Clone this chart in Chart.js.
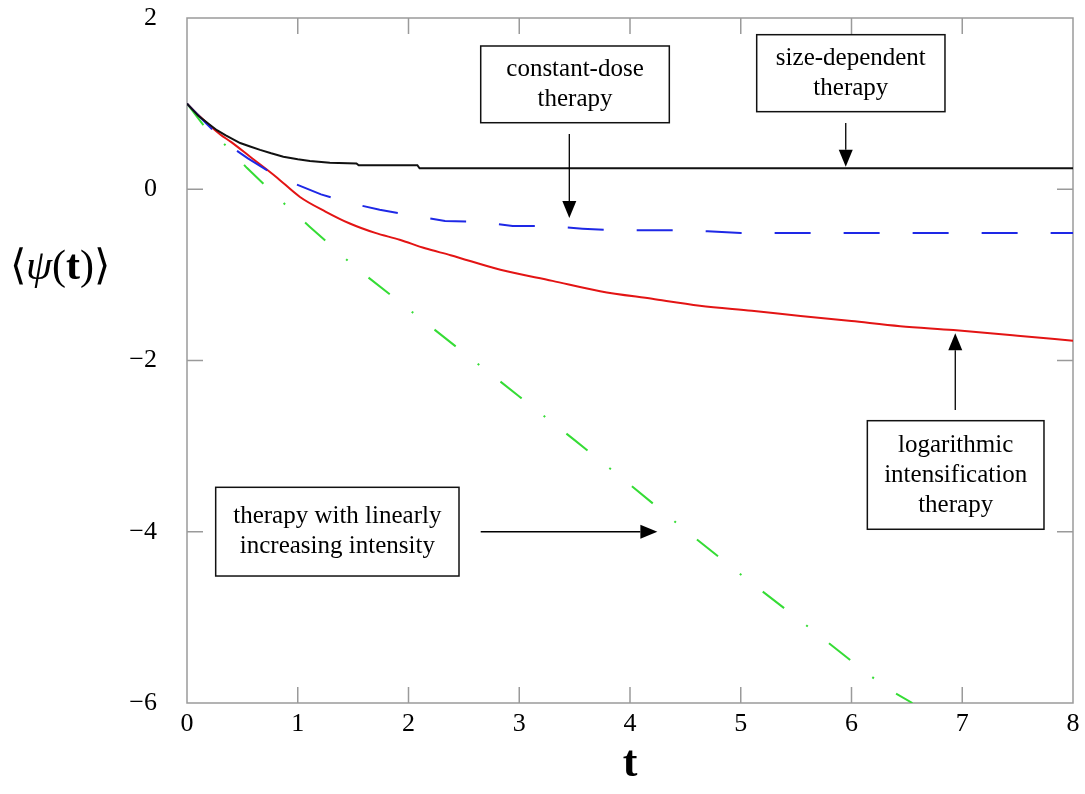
<!DOCTYPE html>
<html>
<head>
<meta charset="utf-8">
<script src="https://cdn.jsdelivr.net/npm/chart.js@4.4.1/dist/chart.umd.min.js"></script>
<style>
  body{margin:0;background:#fff;}
  #wrap{width:1085px;height:794px;}
</style>
</head>
<body>
<div id="wrap"><canvas id="grafico" width="1085" height="794"></canvas></div>
<script>
// valores
const sizeT  = [0,0.1,0.2,0.27,0.35,0.48,0.57,0.66,0.76,0.87,1.0,1.11,1.29,1.53,1.55,2.08,2.1,8];
const sizeV  = [1,0.86,0.76,0.69,0.63,0.54,0.5,0.46,0.42,0.38,0.35,0.33,0.31,0.30,0.28,0.28,0.245,0.245];

const constT = [0,0.15,0.34,0.55,0.75,0.98,1.21,1.47,1.74,2.0,2.33,2.65,2.94,3.25,3.57,3.87,4.4,4.7,5.0,8];
const constV = [1,0.8,0.55,0.36,0.20,0.06,-0.06,-0.16,-0.24,-0.30,-0.37,-0.38,-0.43,-0.43,-0.46,-0.48,-0.48,-0.49,-0.51,-0.51];

const logT   = [0,0.1,0.2,0.3,0.4,0.57,0.8,1.02,1.25,1.47,1.7,1.92,2.15,2.38,2.83,3.3,3.73,4.2,4.63,5.1,5.54,6.0,6.44,6.92,7.5,8];
const logV   = [1,0.87,0.75,0.64,0.55,0.38,0.15,-0.09,-0.26,-0.40,-0.51,-0.59,-0.69,-0.77,-0.94,-1.07,-1.19,-1.28,-1.36,-1.42,-1.48,-1.54,-1.60,-1.645,-1.71,-1.77];

const linT   = [0,0.16,0.36,0.54,0.92,1.11,1.5,2,2.5,3,3.5,4,4.47,5,5.5,6,6.32,6.55];
const linV   = [1,0.73,0.50,0.25,-0.22,-0.44,-0.89,-1.40,-1.91,-2.42,-2.93,-3.45,-3.95,-4.5,-5.0,-5.51,-5.83,-6.0];

const xTicks = [0,1,2,3,4,5,6,7,8];
const yTicks = [2,0,-2,-4,-6];

// caixas de texto (coordenadas do gráfico)
const caixas = [
  {linhas:["constant-dose","therapy"], x0:2.652, x1:4.355, y0:1.673, y1:0.777,
   seta:{x0:3.452, y0:0.645, x1:3.452, y1:-0.336}},
  {linhas:["size-dependent","therapy"], x0:5.144, x1:6.844, y0:1.805, y1:0.906,
   seta:{x0:5.948, y0:0.774, x1:5.948, y1:0.263}},
  {linhas:["logarithmic","intensification","therapy"], x0:6.143, x1:7.738, y0:-2.703, y1:-3.971,
   seta:{x0:6.937, y0:-2.578, x1:6.937, y1:-1.682}},
  {linhas:["therapy with linearly","increasing intensity"], x0:0.259, x1:2.456, y0:-3.481, y1:-4.517,
   seta:{x0:2.652, y0:-4.0, x1:4.247, y1:-4.0}}
];

const serif = '"Liberation Serif","Times New Roman",serif';
const pontos = (ts,vs) => ts.map((t,i)=>({x:t,y:vs[i]}));

const moldura = {
  id:"moldura",
  beforeDatasetsDraw(chart){
    const {ctx, chartArea:a, scales:{x,y}} = chart;
    ctx.save();
    ctx.strokeStyle="#9a9a9a"; ctx.lineWidth=1.5;
    ctx.strokeRect(a.left,a.top,a.right-a.left,a.bottom-a.top);
    const L=16;
    ctx.beginPath();
    xTicks.slice(1,-1).forEach(v=>{
      const px=x.getPixelForValue(v);
      ctx.moveTo(px,a.bottom); ctx.lineTo(px,a.bottom-L);
      ctx.moveTo(px,a.top); ctx.lineTo(px,a.top+L);
    });
    yTicks.slice(1,-1).forEach(v=>{
      const py=y.getPixelForValue(v);
      ctx.moveTo(a.left,py); ctx.lineTo(a.left+L,py);
      ctx.moveTo(a.right,py); ctx.lineTo(a.right-L,py);
    });
    ctx.stroke();
    ctx.restore();
  }
};

function seta(ctx,x0,y0,x1,y1){
  const ang=Math.atan2(y1-y0,x1-x0), h=17, w=7;
  ctx.beginPath(); ctx.moveTo(x0,y0);
  ctx.lineTo(x1-Math.cos(ang)*h, y1-Math.sin(ang)*h); ctx.stroke();
  ctx.beginPath();
  ctx.moveTo(x1,y1);
  ctx.lineTo(x1-Math.cos(ang)*h-Math.sin(ang)*w, y1-Math.sin(ang)*h+Math.cos(ang)*w);
  ctx.lineTo(x1-Math.cos(ang)*h+Math.sin(ang)*w, y1-Math.sin(ang)*h-Math.cos(ang)*w);
  ctx.closePath(); ctx.fill();
}

const anotacoes = {
  id:"anotacoes",
  afterDatasetsDraw(chart){
    const {ctx, scales:{x,y}} = chart;
    ctx.save();
    caixas.forEach(c=>{
      const l=x.getPixelForValue(c.x0), r=x.getPixelForValue(c.x1);
      const t=y.getPixelForValue(c.y0), b=y.getPixelForValue(c.y1);
      ctx.fillStyle="#fff"; ctx.fillRect(l,t,r-l,b-t);
      ctx.strokeStyle="#111"; ctx.lineWidth=1.5; ctx.strokeRect(l,t,r-l,b-t);
      ctx.fillStyle="#000"; ctx.font="25px "+serif;
      ctx.textAlign="center"; ctx.textBaseline="middle";
      const cx=(l+r)/2, cy=(t+b)/2, esp=30;
      c.linhas.forEach((txt,i)=>ctx.fillText(txt,cx,cy+(i-(c.linhas.length-1)/2)*esp));
      const s=c.seta;
      ctx.strokeStyle="#000"; ctx.fillStyle="#000"; ctx.lineWidth=1.3;
      seta(ctx,x.getPixelForValue(s.x0),y.getPixelForValue(s.y0),x.getPixelForValue(s.x1),y.getPixelForValue(s.y1));
    });
    // título do eixo y, na horizontal
    const partes=[["⟨","42px "+serif],["ψ","italic 42px "+serif],["(","42px "+serif],["t","bold 42px "+serif],[")⟩","42px "+serif]];
    let px=10; const py=268;
    ctx.textAlign="left"; ctx.textBaseline="middle"; ctx.fillStyle="#000";
    partes.forEach(([txt,f])=>{ctx.font=f; ctx.fillText(txt,px,py); px+=ctx.measureText(txt).width;});
    ctx.restore();
  }
};

const menos = v => v<0 ? "\u2212"+Math.abs(v) : String(v);

new Chart(document.getElementById("grafico"),{
  type:"line",
  data:{datasets:[
    {label:"size-dependent", data:pontos(sizeT,sizeV), borderColor:"#111", borderWidth:2, pointRadius:0, tension:0},
    {label:"constant-dose", data:pontos(constT,constV), borderColor:"#1e28e6", borderWidth:2, pointRadius:0, tension:0, borderDash:[36,33]},
    {label:"logarithmic", data:pontos(logT,logV), borderColor:"#e31414", borderWidth:2, pointRadius:0, cubicInterpolationMode:"monotone"},
    {label:"linear", data:pontos(linT,linV), borderColor:"#35dc35", borderWidth:2, pointRadius:0, tension:0, borderDash:[27,28,2,27]}
  ]},
  options:{
    responsive:false, animation:false,
    layout:{padding:{top:18,right:12,left:0,bottom:0}},
    plugins:{legend:{display:false}, tooltip:{enabled:false}},
    scales:{
      x:{type:"linear", min:0, max:8,
        afterFit:s=>{s.height=91; s.paddingLeft=0; s.paddingRight=0;},
        afterBuildTicks:s=>{s.ticks=xTicks.map(v=>({value:v}));},
        grid:{display:false, drawTicks:false}, border:{display:false},
        ticks:{color:"#000", padding:6, font:{family:serif,size:26}, callback:menos},
        title:{display:true, text:"t", color:"#000", font:{family:serif,size:44,weight:"bold",lineHeight:1}, padding:{top:0,bottom:7}}
      },
      y:{min:-6, max:2,
        afterFit:s=>{s.width=187; s.paddingTop=0; s.paddingBottom=0;},
        afterBuildTicks:s=>{s.ticks=yTicks.map(v=>({value:v}));},
        grid:{display:false, drawTicks:false}, border:{display:false},
        ticks:{color:"#000", padding:30, font:{family:serif,size:26}, callback:menos}
      }
    }
  },
  plugins:[moldura,anotacoes]
});
</script>
</body>
</html>
